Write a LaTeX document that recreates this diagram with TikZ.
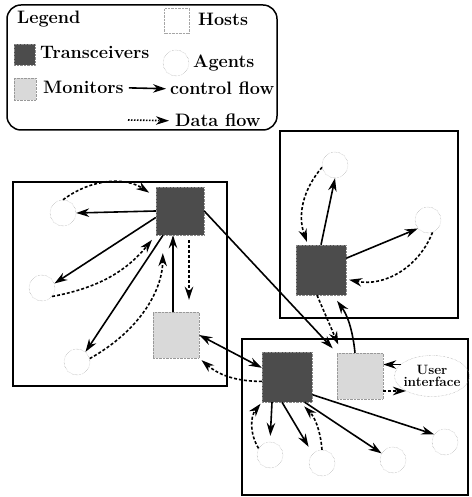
\documentclass[tikz,border=0pt]{standalone}
\usepackage{tikz}
\usetikzlibrary{arrows.meta,positioning,shapes.geometric,calc}
\pgfdeclarelayer{bg}
\pgfsetlayers{bg,main}
\usepackage{xcolor}

\begin{document}
\begin{tikzpicture}[
  x=1pt, y=1pt,
  font=\fontsize{18}{21}\selectfont\bfseries,
  >={Stealth[length=13pt,width=8.5pt]},
  host/.style={draw, line width=1.5pt, inner sep=0pt},
  trans/.style={draw=black!45, densely dotted, fill=black!70, minimum size=48pt, inner sep=0pt},
  monitor/.style={draw=black!40, densely dotted, fill=black!15, minimum size=46pt, inner sep=0pt},
  agent/.style={circle, draw=black!45, densely dotted, minimum size=26pt, inner sep=0pt},
  legtext/.style={anchor=base west, inner sep=0pt},
  ctrlflow/.style={->, line width=1.6pt},
  dataflow/.style={->, line width=1.6pt, dash pattern=on 3pt off 2pt}
]
\useasboundingbox (0,0) rectangle (471,497);
% legend
\node[draw, line width=1.5pt, rounded corners=14pt, minimum width=270pt, minimum height=125pt] (legend) at (142,429.5) {};
\node[legtext] (legtitle) at (17,473) {Legend};
\node[draw=black!35, densely dotted, minimum size=25pt] (leghost) at (177,476) {};
\node[legtext] (leghosttxt) at (198,471) {Hosts};
\node[trans, minimum size=21pt] (legtrans) at (24.5,442) {};
\node[legtext] (legtranstxt) at (40,438) {Transceivers};
\node[agent] (legagent) at (176,434) {};
\node[legtext] (legagenttxt) at (193,429) {Agents};
\node[monitor, minimum size=22pt] (legmon) at (25,408) {};
\node[legtext] (legmontxt) at (43,403) {Monitors};
\node[legtext] (legctrltxt) at (170,402) {control flow};
\node[legtext] (legdatatxt) at (175,370) {Data flow};
\coordinate (legdatastart) at (128,377);
\draw[ctrlflow] ([xshift=5pt]legmontxt.east) -- ([xshift=-4pt]legctrltxt.west);
\draw[dataflow, dash pattern=on 1.5pt off 1.5pt] (legdatastart) -- ([xshift=-6pt]legdatatxt.west);
% hosts
\begin{pgfonlayer}{bg}
\node[host, minimum width=214pt, minimum height=204pt] (hostL) at (120,213) {};
\node[host, minimum width=178pt, minimum height=187pt] (hostTR) at (369,272.5) {};
\node[host, minimum width=226pt, minimum height=156pt] (hostB) at (355,80) {};
\end{pgfonlayer}
% transceivers, monitors, user interface
\node[trans] (tL) at (180,286) {};
\node[trans, minimum size=50pt] (tTR) at (321,227) {};
\node[trans, minimum size=50pt] (tB) at (287,120) {};
\node[monitor] (mL) at (176,162) {};
\node[monitor] (mB) at (360,121) {};
\node[ellipse, draw=black!45, densely dotted, minimum width=75pt, minimum height=41pt, inner xsep=-10pt, inner ysep=-6pt,
  align=center, font=\fontsize{13.5}{12.5}\selectfont\bfseries] (ui) at (432,121) {User\\interface};
% agents
\node[agent] (aL1) at (63,284) {};
\node[agent] (aL2) at (42,209) {};
\node[agent] (aL3) at (77,135) {};
\node[agent] (aT1) at (335,332) {};
\node[agent] (aT2) at (428,277) {};
\node[agent] (aB1) at (270,42) {};
\node[agent] (aB2) at (322,34) {};
\node[agent] (aB3) at (393,37) {};
\node[agent] (aB4) at (445,55) {};
% left host
\draw[ctrlflow] (tL.west) -- (aL1.east);
\draw[dataflow, shorten >=8pt] (aL1.north) to[bend left=35] (tL.150);
\draw[ctrlflow] (tL.195) -- (aL2.20);
\draw[dataflow, shorten >=6pt] (aL2.-40) to[bend right=20] (tL.south west);
\draw[ctrlflow] (tL.235) -- (aL3.50);
\draw[dataflow, shorten >=18pt] (aL3.15) to[bend right=30] (tL.235);
\draw[ctrlflow] ([xshift=-3pt]mL.north) -- ([xshift=-7pt]tL.south);
\draw[dataflow, shorten <=5pt, shorten >=12pt] ([xshift=9pt]tL.south) -- ([xshift=13pt]mL.north);
\draw[ctrlflow, <->] (mL.east) -- (tB.160);
\draw[dataflow, shorten >=3pt] (tB.190) to[bend left=20] (mL.south east);
\draw[ctrlflow, shorten >=6pt] (tL.east) -- (mB.north west);
% top right host
\draw[ctrlflow] (tTR.north) -- (aT1.south);
\draw[dataflow, shorten >=3pt] (aT1.190) to[bend right=30] ([xshift=-13pt]tTR.north);
\draw[ctrlflow] (tTR.25) -- (aT2.220);
\draw[dataflow, shorten >=3pt] (aT2.-70) to[bend left=40] (tTR.-20);
\draw[dataflow, shorten >=9pt] ([xshift=-4pt]tTR.south) -- ([xshift=5pt]mB.north west);
\draw[ctrlflow, shorten >=7pt] ([xshift=-5pt]mB.north) to[bend right=15] ([xshift=12pt]tTR.south);
% bottom host
\draw[ctrlflow] (ui.160) -- (ui.160 -| mB.east);
\draw[dataflow] (mB.east |- ui.210) -- (ui.210);
\draw[ctrlflow, shorten >=6pt] ([xshift=-15pt]tB.south) -- (aB1.north);
\draw[dataflow, shorten >=2pt] (aB1.150) to[bend left=35] (tB.south west);
\draw[ctrlflow, shorten >=8pt] ([xshift=-5pt]tB.south) -- (aB2.north west);
\draw[dataflow, shorten >=6pt] (aB2.north) to[bend right=20] ([xshift=13pt]tB.south);
\draw[ctrlflow] (tB.-55) -- (aB3.150);
\draw[ctrlflow] (tB.-35) -- (aB4.145);
\end{tikzpicture}
\end{document}
